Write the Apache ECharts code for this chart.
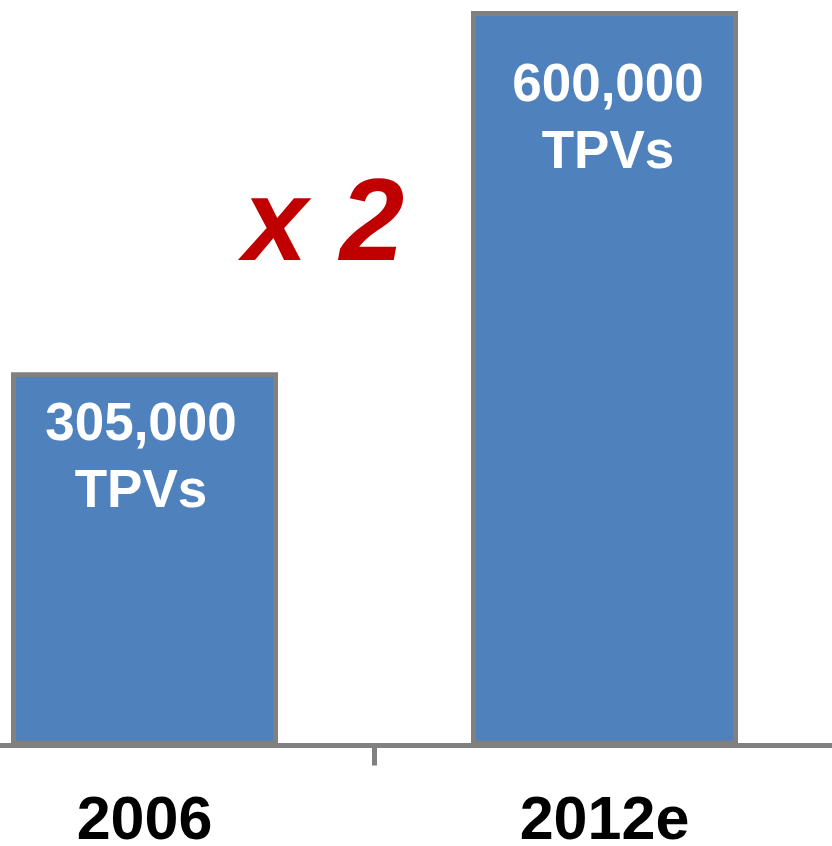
<!DOCTYPE html>
<html lang="en">
<head>
    <meta charset="UTF-8">
    <title>TPVs 2006 - 2012e</title>
    <script src="https://cdn.jsdelivr.net/npm/echarts@6/dist/echarts.min.js"></script>
    <style>
        html, body { margin: 0; padding: 0; background: #fff; }
    </style>
</head>
<body>
<div id="box" style="width: 832px;height: 846px;"></div>
<script>
    var years = ['2006', '2012e'];
    var tpvs = [305000, 600000];
    var unit = 'TPVs';
    var growth = 'x 2';

    // label spacing from the bar top differs a bit per bar in the source
    var labelDist = [20, 42];
    var labelShift = [-3.5, 3.5];

    var myChart = echarts.init(document.getElementById('box'));

    function fmt(v) {
        return String(v).replace(/\B(?=(\d{3})+(?!\d))/g, ',');
    }

    var barData = tpvs.map(function (v, i) {
        return {
            value: v,
            label: { distance: labelDist[i], offset: [labelShift[i], 0] }
        };
    });

    var option = {
        animation: false,
        grid: {
            left: -85.5,
            right: -2.5,
            top: 11,
            bottom: 100.5,
            containLabel: false,
            outerBoundsMode: 'none'
        },
        xAxis: {
            type: 'category',
            data: years,
            axisLine: {
                lineStyle: { color: '#808080', width: 5 }
            },
            axisTick: {
                show: true,
                interval: 0,
                length: 20,
                lineStyle: { color: '#808080', width: 5 }
            },
            axisLabel: {
                interval: 0,
                color: '#000',
                fontFamily: 'Liberation Sans, Arial, sans-serif',
                fontWeight: 'bold',
                fontSize: 61,
                verticalAlign: 'middle',
                margin: 77
            }
        },
        yAxis: {
            type: 'value',
            min: 0,
            max: 600000,
            show: false,
            splitLine: { show: false }
        },
        series: [
            {
                type: 'bar',
                barWidth: 267,
                data: barData,
                itemStyle: {
                    color: '#4F81BD',
                    borderColor: '#808080',
                    borderWidth: 5
                },
                label: {
                    show: true,
                    position: 'insideTop',
                    color: '#fff',
                    fontFamily: 'Liberation Sans, Arial, sans-serif',
                    fontWeight: 'bold',
                    fontSize: 53,
                    lineHeight: 67,
                    formatter: function (p) {
                        return fmt(p.value) + '\n' + unit;
                    }
                }
            }
        ],
        graphic: [
            {
                type: 'text',
                left: 243,
                top: 170,
                style: {
                    text: growth,
                    fill: '#C00000',
                    font: 'italic bold 116px "Liberation Sans", Arial, sans-serif'
                }
            }
        ]
    };
    myChart.setOption(option);
</script>
</body>
</html>
